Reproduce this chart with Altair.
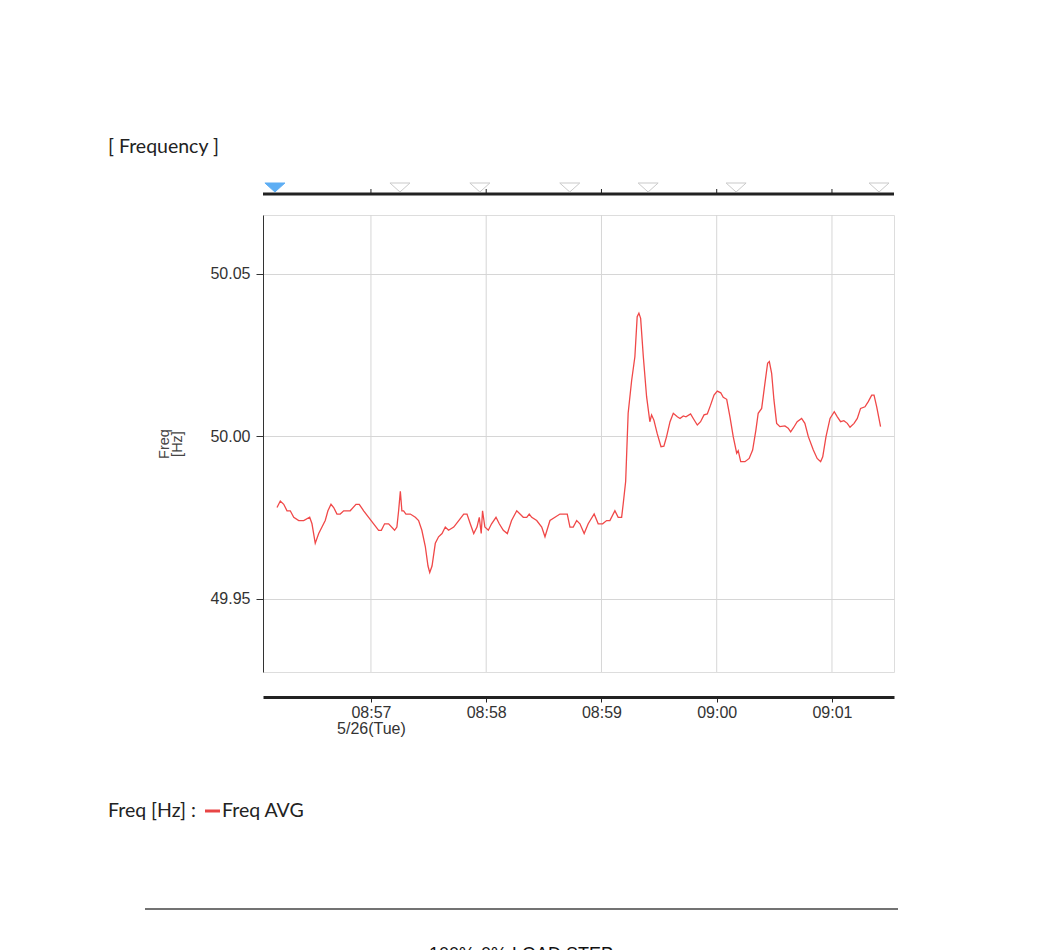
import altair as alt
import pandas as pd

# ---------------- data ----------------
sec_after_0856 = [11.1, 12.8, 14.6, 16.3, 18.0, 19.8, 22.4, 25.0, 28.1, 29.3, 31.0, 32.8, 34.5, 36.2, 37.6,
                  39.2, 40.6, 42.3, 44.0, 45.8, 47.5, 49.2, 52.2, 53.9, 56.2, 58.8, 61.4, 64.0, 65.4, 67.1,
                  69.2, 72.3, 73.5, 74.4, 75.3, 76.1, 77.0, 78.2, 80.5, 83.1, 84.8, 86.5, 88.3, 89.7, 90.6,
                  91.8, 93.5, 95.2, 97.0, 98.7, 100.4, 103.1, 105.7, 108.3, 110.0, 111.7, 113.5, 115.2, 116.4, 117.4,
                  118.1, 119.3, 121.1, 122.8, 125.1, 126.8, 128.9, 131.0, 133.2, 135.9, 137.6, 139.3, 141.1, 142.4,
                  143.7, 146.3, 148.9, 150.6, 153.2, 155.8, 158.4, 162.2, 163.6, 165.3, 167.1, 168.8, 171.0, 173.1,
                  176.2, 178.3, 180.6, 182.7, 184.4, 187.0, 188.7, 190.5, 191.3, 192.6,
                  193.9, 195.7, 197.4, 198.6, 199.5, 200.4, 201.8, 203.5, 205.2, 206.1, 207.3, 209.0, 211.0, 212.5,
                  213.9, 215.7, 217.4, 219.5, 220.9, 222.6, 224.0, 226.4, 227.8, 229.9, 231.6, 233.4, 235.1, 236.8,
                  238.6, 240.3, 242.1, 243.4, 245.2, 246.9, 248.6, 250.4, 251.2, 252.5, 254.7, 256.9, 258.7, 260.4,
                  261.6, 263.4, 265.1, 266.5, 267.4, 268.6, 269.8, 271.2, 272.9, 275.5, 277.2, 278.5, 279.8, 281.9,
                  284.2, 285.9, 287.7, 290.3, 292.3, 294.1, 295.2, 296.9, 299.0, 301.2, 302.8, 304.5, 306.2, 308.0,
                  309.4, 311.5, 313.2, 314.9, 317.2, 318.9, 320.7, 321.9, 323.3, 325.3]

freq_avg_hz = [49.978, 49.980, 49.979, 49.977, 49.977, 49.975, 49.974, 49.974, 49.975, 49.973, 49.967, 49.970,
               49.972, 49.974, 49.977, 49.979, 49.978, 49.976, 49.976, 49.977, 49.977, 49.977, 49.979, 49.979,
               49.977, 49.975, 49.973, 49.971, 49.971, 49.973, 49.973, 49.971, 49.972, 49.977, 49.983, 49.977,
               49.977, 49.976, 49.976, 49.975, 49.974, 49.971, 49.966, 49.960, 49.958, 49.960, 49.967, 49.969,
               49.970, 49.972, 49.971, 49.972, 49.974, 49.976, 49.976, 49.973, 49.970, 49.972, 49.975, 49.970,
               49.977, 49.972, 49.971, 49.973, 49.975, 49.973, 49.971, 49.970, 49.974, 49.977, 49.976, 49.975,
               49.975, 49.976, 49.975, 49.974, 49.972, 49.969, 49.974, 49.975, 49.976, 49.976, 49.972, 49.972,
               49.974, 49.973, 49.970, 49.973, 49.976, 49.973, 49.973, 49.974, 49.974, 49.977, 49.975, 49.975,
               49.979, 49.986,
               50.007, 50.017, 50.0244, 50.0367, 50.0378, 50.0362, 50.0244, 50.0121, 50.0044, 50.0065, 50.0049,
               50.0008, 49.9967, 49.9969, 49.9998, 50.0044, 50.0070, 50.0059, 50.0054, 50.0062, 50.0059, 50.0068,
               50.0054, 50.0034, 50.0044, 50.0065, 50.0068, 50.0095, 50.0126, 50.0138, 50.0133, 50.0119, 50.0113,
               50.0059, 49.9998, 49.9947, 49.9955, 49.9921, 49.9921, 49.9931, 49.9957, 50.0018, 50.0070, 50.0085,
               50.0162, 50.0224, 50.0229, 50.0193, 50.0111, 50.0039, 50.0029, 50.0031, 50.0024, 50.0013, 50.0024,
               50.0044, 50.0054, 50.0039, 49.9998, 49.9957, 49.9931, 49.9921, 49.9936, 49.9998, 50.0054, 50.0075,
               50.0059, 50.0044, 50.0047, 50.0039, 50.0027, 50.0039, 50.0054, 50.0085, 50.0090, 50.0106, 50.0126,
               50.0126, 50.0090, 50.0029]

marker_secs = [10.0, 75.1, 116.7, 163.5, 204.3, 250.1, 324.5]
marker_active = [True, False, False, False, False, False, False]

minute_ticks = ["08:57", "08:58", "08:59", "09:00", "09:01"]
y_tick_values = [49.95, 50.00, 50.05]

day = "2020-05-26"
date_label = "5/26(Tue)"
title_text = "[ Frequency ]"
legend_prefix = "Freq [Hz] :"
series_name = "Freq AVG"
footer_text = "100%-0% LOAD STEP"

# ---------------- tables ----------------
base_time = pd.Timestamp(f"{day} 08:56:00")
df = pd.DataFrame({"time": base_time + pd.to_timedelta(sec_after_0856, unit="s"),
                   "freq": freq_avg_hz})
mk = pd.DataFrame({"time": base_time + pd.to_timedelta(marker_secs, unit="s"),
                   "active": marker_active})
ticks_df = pd.DataFrame({"time": [pd.Timestamp(f"{day} {m}:00") for m in minute_ticks]})
one = pd.DataFrame({"k": [0]})

def dt(hh, mm, ss=0, ms=0):
    return alt.DateTime(year=2020, month=5, date=26, hours=hh, minutes=mm, seconds=ss, milliseconds=ms)

tick_values = [dt(int(m[:2]), int(m[3:])) for m in minute_ticks]

W, H = 631, 457
FONT_DOC = "Lato"
FONT_CHART = "Liberation Sans"
DOC_SIZE = 19.5

x_scale = alt.Scale(domain=[dt(8, 56, 3, 800), dt(9, 1, 32, 300)], nice=False)
y_scale = alt.Scale(domain=[49.9274, 50.068], nice=False, zero=False)

label_expr = (f"minutes(datum.value) == 57 ? [timeFormat(datum.value, '%H:%M'), '{date_label}']"
              " : timeFormat(datum.value, '%H:%M')")

# vertical grid lines at minutes
vgrid = alt.Chart(ticks_df).mark_rule(color="#d6d6d6", strokeWidth=1).encode(
    x=alt.X("time:T", scale=x_scale,
            axis=alt.Axis(values=tick_values, orient="bottom", offset=25, grid=False,
                          domainColor="#222", domainWidth=3, tickColor="#222", tickSize=5,
                          tickWidth=1, labelFont=FONT_CHART, labelFontSize=16, labelColor="#333",
                          labelPadding=2, labelLineHeight=16, labelFlush=False, labelOverlap=False,
                          labelExpr=label_expr, title=None)),
)

line = alt.Chart(df).mark_line(color="#f04848", strokeWidth=1.3, clip=True).encode(
    x=alt.X("time:T", scale=x_scale),
    y=alt.Y("freq:Q", scale=y_scale,
            axis=alt.Axis(values=y_tick_values, format=".2f", grid=True, gridColor="#d6d6d6",
                          domainColor="#333", domainWidth=1, tickColor="#333", tickSize=7,
                          labelFont=FONT_CHART, labelFontSize=16, labelColor="#333", labelPadding=6,
                          title=["Freq", "[Hz]"], titleFont=FONT_CHART, titleFontSize=14.5,
                          titleFontWeight="normal", titleColor="#444", titlePadding=25,
                          titleLineHeight=13)),
)

# top event bar
top_bar = alt.Chart(one).mark_rule(color="#222", strokeWidth=3).encode(
    x=alt.value(0), x2=alt.value(W), y=alt.value(-21))
top_ticks = alt.Chart(ticks_df).mark_rule(color="#222", strokeWidth=1).encode(
    x=alt.X("time:T", scale=x_scale), y=alt.value(-26), y2=alt.value(-21))
markers = alt.Chart(mk).mark_point(shape="M-1,-0.45L1,-0.45L0,0.45Z", size=400, filled=True,
                                   strokeWidth=1).encode(
    x=alt.X("time:T", scale=x_scale),
    y=alt.value(-27.5),
    fill=alt.condition("datum.active", alt.value("#1a8cf0"), alt.value("white")),
    stroke=alt.condition("datum.active", alt.value("#1a8cf0"), alt.value("#b5b5b5")),
)

# document texts
title = alt.Chart(one).mark_text(text=title_text, font=FONT_DOC, fontSize=DOC_SIZE, color="#222",
                                 align="left", baseline="alphabetic").encode(
    x=alt.value(-155), y=alt.value(-62))
leg1 = alt.Chart(one).mark_text(text=legend_prefix, font=FONT_DOC, fontSize=DOC_SIZE, color="#222",
                                align="left", baseline="alphabetic").encode(
    x=alt.value(-155), y=alt.value(602))
leg_swatch = alt.Chart(one).mark_rule(color="#e84545", strokeWidth=3).encode(
    x=alt.value(-58), x2=alt.value(-43), y=alt.value(596))
leg2 = alt.Chart(one).mark_text(text=series_name, font=FONT_DOC, fontSize=DOC_SIZE, color="#222",
                                align="left", baseline="alphabetic").encode(
    x=alt.value(-41), y=alt.value(602))
hr = alt.Chart(one).mark_rule(color="#444", strokeWidth=1.5).encode(
    x=alt.value(-118), x2=alt.value(635), y=alt.value(694))
footer = alt.Chart(one).mark_text(text=footer_text, font=FONT_CHART, fontSize=18, color="#111",
                                  align="center", baseline="alphabetic").encode(
    x=alt.value(258), y=alt.value(745))

chart = alt.layer(vgrid, line, top_bar, top_ticks, markers, title, leg1, leg_swatch, leg2, hr,
                  footer).properties(
    width=W, height=H,
    autosize=alt.AutoSizeParams(type="none"),
    padding={"left": 255, "top": 207, "right": 100, "bottom": 290},
).configure_view(stroke="#777", strokeWidth=1).configure(background="white")

chart.save("out.html", embed_options={"renderer": "svg", "actions": False})
